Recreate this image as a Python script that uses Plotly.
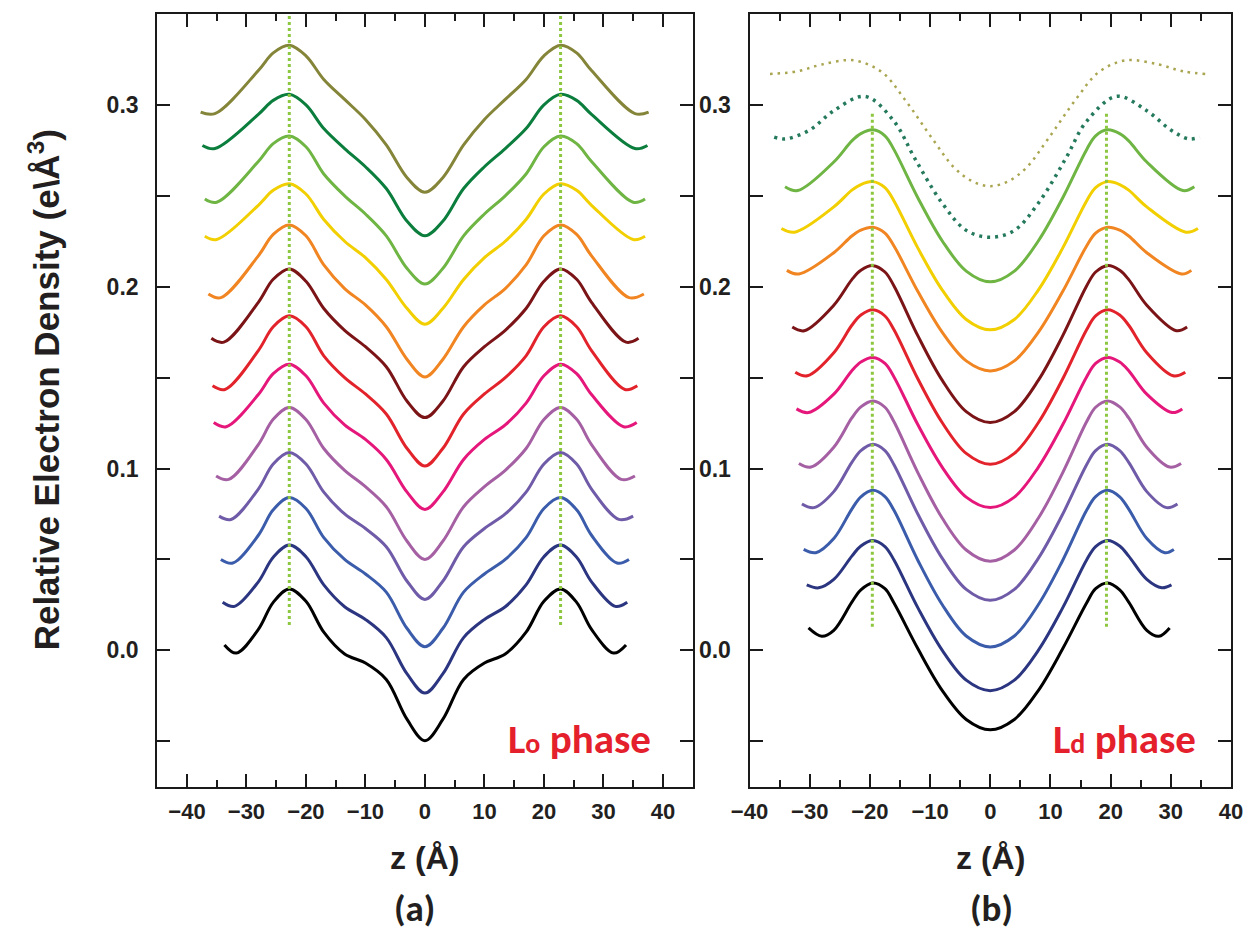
import plotly.graph_objects as go

# ---------------- DATA ----------------
# Panel (a) Lo phase: z (Å) and relative electron density, bottom curve to top curve
lo_black_z = [-33.7, -31.7, -28, -25.5, -22.8, -20, -17, -13.5, -10, -6.5, -3, 0, 3, 6.5, 10, 13.5, 17, 20, 22.8, 25.5, 28, 31.7, 33.8]
lo_black_rho = [0.003, -0.0015, 0.0115, 0.0264, 0.0338, 0.027, 0.010, -0.002, -0.007, -0.016, -0.038, -0.0497, -0.038, -0.016, -0.007, -0.002, 0.010, 0.027, 0.0338, 0.0264, 0.0115, -0.0015, 0.003]
lo_navy_z = [-34.0, -32.0, -28, -25.5, -22.8, -20, -17, -13.5, -10, -6.5, -3, 0, 3, 6.5, 10, 13.5, 17, 20, 22.8, 25.5, 28, 32.0, 34.0]
lo_navy_rho = [0.0265, 0.0242, 0.0377, 0.0512, 0.0579, 0.0515, 0.036, 0.024, 0.017, 0.007, -0.013, -0.0235, -0.013, 0.007, 0.017, 0.024, 0.036, 0.0515, 0.0579, 0.0512, 0.0377, 0.0242, 0.0265]
lo_blue_z = [-34.3, -32.3, -28, -25.5, -22.8, -20, -17, -13.5, -10, -6.5, -3, 0, 3, 6.5, 10, 13.5, 17, 20, 22.8, 25.5, 28, 32.3, 34.3]
lo_blue_rho = [0.050, 0.048, 0.0633, 0.0773, 0.084, 0.078, 0.062, 0.050, 0.042, 0.032, 0.012, 0.002, 0.012, 0.032, 0.042, 0.050, 0.062, 0.078, 0.084, 0.0773, 0.0633, 0.048, 0.050]
lo_purple_z = [-34.6, -32.6, -28, -25.5, -22.8, -20, -17, -13.5, -10, -6.5, -3, 0, 3, 6.5, 10, 13.5, 17, 20, 22.8, 25.5, 28, 32.6, 35.0]
lo_purple_rho = [0.0738, 0.072, 0.0887, 0.1025, 0.1088, 0.1025, 0.087, 0.075, 0.067, 0.057, 0.038, 0.028, 0.038, 0.057, 0.067, 0.075, 0.087, 0.1025, 0.1088, 0.1025, 0.0887, 0.072, 0.0738]
lo_mauve_z = [-35.1, -33.0, -28, -25.5, -22.8, -20, -17, -13.5, -10, -6.5, -3, 0, 3, 6.5, 10, 13.5, 17, 20, 22.8, 25.5, 28, 33.0, 35.3]
lo_mauve_rho = [0.0959, 0.094, 0.1132, 0.1271, 0.1336, 0.127, 0.111, 0.099, 0.090, 0.079, 0.060, 0.050, 0.060, 0.079, 0.090, 0.099, 0.111, 0.127, 0.1336, 0.1271, 0.1132, 0.094, 0.0959]
lo_pink_z = [-35.5, -33.4, -28, -25.5, -22.8, -20, -17, -13.5, -10, -6.5, -3, 0, 3, 6.5, 10, 13.5, 17, 20, 22.8, 25.5, 28, 33.4, 35.6]
lo_pink_rho = [0.1253, 0.123, 0.1407, 0.1522, 0.1574, 0.151, 0.136, 0.124, 0.116, 0.105, 0.087, 0.0775, 0.087, 0.105, 0.116, 0.124, 0.136, 0.151, 0.1574, 0.1522, 0.1407, 0.123, 0.1253]
lo_red_z = [-35.7, -33.6, -28, -25.5, -22.8, -20, -17, -13.5, -10, -6.5, -3, 0, 3, 6.5, 10, 13.5, 17, 20, 22.8, 25.5, 28, 33.6, 35.7]
lo_red_rho = [0.1455, 0.1435, 0.1649, 0.178, 0.184, 0.178, 0.162, 0.150, 0.141, 0.130, 0.111, 0.1014, 0.111, 0.130, 0.141, 0.150, 0.162, 0.178, 0.184, 0.178, 0.1649, 0.1435, 0.1455]
lo_darkred_z = [-35.9, -33.8, -28, -25.5, -22.8, -20, -17, -13.5, -10, -6.5, -3, 0, 3, 6.5, 10, 13.5, 17, 20, 22.8, 25.5, 28, 33.8, 35.9]
lo_darkred_rho = [0.1716, 0.1695, 0.1914, 0.2041, 0.2098, 0.203, 0.188, 0.176, 0.167, 0.156, 0.137, 0.128, 0.137, 0.156, 0.167, 0.176, 0.188, 0.203, 0.2098, 0.2041, 0.1914, 0.1695, 0.1716]
lo_orange_z = [-36.4, -34.3, -28, -25.5, -22.8, -20, -17, -13.5, -10, -6.5, -3, 0, 3, 6.5, 10, 13.5, 17, 20, 22.8, 25.5, 28, 34.3, 36.8]
lo_orange_rho = [0.196, 0.194, 0.217, 0.2288, 0.234, 0.228, 0.212, 0.199, 0.190, 0.178, 0.160, 0.1504, 0.160, 0.178, 0.190, 0.199, 0.212, 0.228, 0.234, 0.2288, 0.217, 0.194, 0.196]
lo_yellow_z = [-37.0, -35.0, -28, -25.5, -22.8, -20, -17, -13.5, -10, -6.5, -3, 0, 3, 6.5, 10, 13.5, 17, 20, 22.8, 25.5, 28, 35.0, 37.0]
lo_yellow_rho = [0.2278, 0.226, 0.2448, 0.253, 0.2566, 0.251, 0.237, 0.225, 0.216, 0.204, 0.188, 0.1794, 0.188, 0.204, 0.216, 0.225, 0.237, 0.251, 0.2566, 0.253, 0.2448, 0.226, 0.2278]
lo_lightgreen_z = [-37.0, -35.0, -28, -25.5, -22.8, -20, -17, -13.5, -10, -6.5, -3, 0, 3, 6.5, 10, 13.5, 17, 20, 22.8, 25.5, 28, 35.0, 37.0]
lo_lightgreen_rho = [0.2483, 0.2465, 0.2689, 0.2787, 0.2829, 0.277, 0.262, 0.250, 0.240, 0.228, 0.210, 0.2015, 0.210, 0.228, 0.240, 0.250, 0.262, 0.277, 0.2829, 0.2787, 0.2689, 0.2465, 0.2483]
lo_darkgreen_z = [-37.4, -35.3, -28, -25.5, -22.8, -20, -17, -13.5, -10, -6.5, -3, 0, 3, 6.5, 10, 13.5, 17, 20, 22.8, 25.5, 28, 35.3, 37.4]
lo_darkgreen_rho = [0.2777, 0.276, 0.2948, 0.3025, 0.3058, 0.300, 0.287, 0.276, 0.266, 0.254, 0.236, 0.228, 0.236, 0.254, 0.266, 0.276, 0.287, 0.300, 0.3058, 0.3025, 0.2948, 0.276, 0.2777]
lo_olive_z = [-37.7, -35.3, -28, -25.5, -22.8, -20, -17, -13.5, -10, -6.5, -3, 0, 3, 6.5, 10, 13.5, 17, 20, 22.8, 25.5, 28, 35.3, 37.6]
lo_olive_rho = [0.296, 0.2952, 0.3189, 0.3286, 0.3328, 0.327, 0.314, 0.303, 0.292, 0.278, 0.260, 0.252, 0.260, 0.278, 0.292, 0.303, 0.314, 0.327, 0.3328, 0.3286, 0.3189, 0.2952, 0.296]

# Panel (b) Ld phase
ld_black_z = [-30.2, -28.0, -26, -23, -21.5, -19.5, -17.5, -16, -12, -8, -4, 0, 4, 8, 12, 16, 17.5, 19.5, 21.5, 23, 26, 28.0, 29.8]
ld_black_rho = [0.0123, 0.0077, 0.011, 0.0265, 0.0333, 0.0371, 0.0339, 0.026, 0.0007, -0.022, -0.038, -0.0437, -0.038, -0.022, 0.0007, 0.026, 0.0339, 0.0371, 0.0333, 0.0265, 0.011, 0.0077, 0.0123]
ld_navy_z = [-30.5, -28.5, -26, -23, -21.5, -19.5, -17.5, -16, -12, -8, -4, 0, 4, 8, 12, 16, 17.5, 19.5, 21.5, 23, 26, 28.5, 30.1]
ld_navy_rho = [0.036, 0.0344, 0.039, 0.0518, 0.0574, 0.0604, 0.0571, 0.0497, 0.0232, 0.0001, -0.0164, -0.0222, -0.0164, 0.0001, 0.0232, 0.0497, 0.0571, 0.0604, 0.0574, 0.0518, 0.039, 0.0344, 0.036]
ld_blue_z = [-31.0, -29.0, -26, -23, -21.5, -19.5, -17.5, -16, -12, -8, -4, 0, 4, 8, 12, 16, 17.5, 19.5, 21.5, 23, 26, 29.0, 30.5]
ld_blue_rho = [0.0555, 0.0537, 0.0615, 0.0777, 0.0844, 0.088, 0.0846, 0.077, 0.0493, 0.0252, 0.0079, 0.0019, 0.0079, 0.0252, 0.0493, 0.077, 0.0846, 0.088, 0.0844, 0.0777, 0.0615, 0.0537, 0.0555]
ld_purple_z = [-31.3, -29.3, -26, -23, -21.5, -19.5, -17.5, -16, -12, -8, -4, 0, 4, 8, 12, 16, 17.5, 19.5, 21.5, 23, 26, 29.3, 31.1]
ld_purple_rho = [0.0805, 0.0785, 0.0873, 0.1034, 0.1098, 0.1133, 0.1099, 0.1021, 0.0747, 0.0507, 0.0335, 0.0275, 0.0335, 0.0507, 0.0747, 0.1021, 0.1099, 0.1133, 0.1098, 0.1034, 0.0873, 0.0785, 0.0805]
ld_mauve_z = [-31.8, -29.8, -26, -23, -21.5, -19.5, -17.5, -16, -12, -8, -4, 0, 4, 8, 12, 16, 17.5, 19.5, 21.5, 23, 26, 29.8, 31.7]
ld_mauve_rho = [0.1028, 0.1008, 0.1117, 0.1278, 0.1339, 0.1372, 0.1337, 0.1257, 0.0975, 0.0728, 0.0552, 0.049, 0.0552, 0.0728, 0.0975, 0.1257, 0.1337, 0.1372, 0.1339, 0.1278, 0.1117, 0.1008, 0.1028]
ld_pink_z = [-32.2, -30.2, -26, -23, -21.5, -19.5, -17.5, -16, -12, -8, -4, 0, 4, 8, 12, 16, 17.5, 19.5, 21.5, 23, 26, 30.2, 31.9]
ld_pink_rho = [0.1328, 0.1308, 0.1409, 0.1538, 0.1586, 0.1611, 0.1578, 0.1504, 0.1239, 0.1008, 0.0843, 0.0785, 0.0843, 0.1008, 0.1239, 0.1504, 0.1578, 0.1611, 0.1586, 0.1538, 0.1409, 0.1308, 0.1328]
ld_red_z = [-32.4, -30.4, -26, -23, -21.5, -19.5, -17.5, -16, -12, -8, -4, 0, 4, 8, 12, 16, 17.5, 19.5, 21.5, 23, 26, 30.4, 32.4]
ld_red_rho = [0.153, 0.151, 0.1637, 0.1788, 0.1844, 0.1873, 0.1839, 0.1763, 0.1491, 0.1253, 0.1083, 0.1023, 0.1083, 0.1253, 0.1491, 0.1763, 0.1839, 0.1873, 0.1844, 0.1788, 0.1637, 0.151, 0.153]
ld_darkred_z = [-32.9, -30.9, -26, -23, -21.5, -19.5, -17.5, -16, -12, -8, -4, 0, 4, 8, 12, 16, 17.5, 19.5, 21.5, 23, 26, 30.9, 32.7]
ld_darkred_rho = [0.1778, 0.1758, 0.1898, 0.2039, 0.209, 0.2116, 0.2081, 0.2004, 0.1728, 0.1486, 0.1313, 0.1253, 0.1313, 0.1486, 0.1728, 0.2004, 0.2081, 0.2116, 0.209, 0.2039, 0.1898, 0.1758, 0.1778]
ld_orange_z = [-33.8, -31.8, -26, -23, -21.5, -19.5, -17.5, -16, -12, -8, -4, 0, 4, 8, 12, 16, 17.5, 19.5, 21.5, 23, 26, 31.8, 33.4]
ld_orange_rho = [0.209, 0.207, 0.2187, 0.2279, 0.2311, 0.2327, 0.2295, 0.2224, 0.1972, 0.175, 0.1592, 0.1537, 0.1592, 0.175, 0.1972, 0.2224, 0.2295, 0.2327, 0.2311, 0.2279, 0.2187, 0.207, 0.209]
ld_yellow_z = [-34.7, -32.5, -26, -23, -21.5, -19.5, -17.5, -16, -12, -8, -4, 0, 4, 8, 12, 16, 17.5, 19.5, 21.5, 23, 26, 32.5, 34.5]
ld_yellow_rho = [0.232, 0.230, 0.2439, 0.2531, 0.2562, 0.2578, 0.2545, 0.2472, 0.2211, 0.1983, 0.182, 0.1763, 0.182, 0.1983, 0.2211, 0.2472, 0.2545, 0.2578, 0.2562, 0.2531, 0.2439, 0.230, 0.232]
ld_lightgreen_z = [-34.1, -32.0, -26, -23, -21.5, -19.5, -17.5, -16, -12, -8, -4, 0, 4, 8, 12, 16, 17.5, 19.5, 21.5, 23, 26, 32.0, 33.9]
ld_lightgreen_rho = [0.255, 0.2529, 0.2686, 0.2802, 0.2842, 0.2863, 0.283, 0.2754, 0.2487, 0.2253, 0.2086, 0.2027, 0.2086, 0.2253, 0.2487, 0.2754, 0.283, 0.2863, 0.2842, 0.2802, 0.2686, 0.2529, 0.255]
ld_teal_z = [-35.9, -34.0, -30, -26, -20.8, -16, -12.5, -8, -4, 0, 4, 8, 12.5, 16, 21, 26, 30, 33.0, 34.8]
ld_teal_rho = [0.2823, 0.2813, 0.2862, 0.2968, 0.3047, 0.291, 0.2703, 0.246, 0.231, 0.2272, 0.231, 0.246, 0.2703, 0.291, 0.3047, 0.2968, 0.2862, 0.2813, 0.2823]
ld_khaki_z = [-36.6, -32, -28, -22.7, -18, -14.3, -9.6, -6, -3, 0, 3, 6, 9.6, 14.3, 18, 22.5, 28, 32, 35.9]
ld_khaki_rho = [0.317, 0.3185, 0.3222, 0.3245, 0.318, 0.3034, 0.2813, 0.2655, 0.258, 0.2553, 0.258, 0.2655, 0.2813, 0.3034, 0.318, 0.3245, 0.3222, 0.3185, 0.317]

# head-group peak guide lines (z position, rho start, rho end)
lo_guide_z = [-22.8, 22.8]
lo_guide_rho = [0.014, 0.35]
ld_guide_z = [-19.6, 19.3]
ld_guide_rho = [0.013, 0.296]

# colours, bottom to top
curve_colors = ['#000000', '#2b3580', '#3b5caa', '#6f5ba7', '#a55fa3', '#e5177b',
                '#e3232b', '#7b1417', '#f08521', '#f2cf00', '#6fb544', '#0b7d3c', '#85853a']
ld_dotted_colors = ['#257a5c', '#aaa550']
guide_color = '#8dc63f'

# axis ticks
lo_x_ticks = [-40, -30, -20, -10, 0, 10, 20, 30, 40]
ld_x_ticks = [-40, -30, -20, -10, 0, 10, 20, 30, 40]
y_tick_vals = [-0.05, 0.0, 0.05, 0.1, 0.15, 0.2, 0.25, 0.3]
y_tick_text = [' ', '0.0', ' ', '0.1', ' ', '0.2', ' ', '0.3']

# ---------------- FIGURE ----------------
W, H = 1257, 938
fig = go.Figure()

lo_series = [(lo_black_z, lo_black_rho), (lo_navy_z, lo_navy_rho), (lo_blue_z, lo_blue_rho),
             (lo_purple_z, lo_purple_rho), (lo_mauve_z, lo_mauve_rho), (lo_pink_z, lo_pink_rho),
             (lo_red_z, lo_red_rho), (lo_darkred_z, lo_darkred_rho), (lo_orange_z, lo_orange_rho),
             (lo_yellow_z, lo_yellow_rho), (lo_lightgreen_z, lo_lightgreen_rho),
             (lo_darkgreen_z, lo_darkgreen_rho), (lo_olive_z, lo_olive_rho)]
ld_series = [(ld_black_z, ld_black_rho), (ld_navy_z, ld_navy_rho), (ld_blue_z, ld_blue_rho),
             (ld_purple_z, ld_purple_rho), (ld_mauve_z, ld_mauve_rho), (ld_pink_z, ld_pink_rho),
             (ld_red_z, ld_red_rho), (ld_darkred_z, ld_darkred_rho), (ld_orange_z, ld_orange_rho),
             (ld_yellow_z, ld_yellow_rho), (ld_lightgreen_z, ld_lightgreen_rho)]

for (z, r), c in zip(lo_series, curve_colors):
    fig.add_trace(go.Scatter(x=z, y=r, mode='lines', line=dict(color=c, width=3, shape='spline', smoothing=1.0),
                             xaxis='x', yaxis='y', hoverinfo='skip'))
for (z, r), c in zip(ld_series, curve_colors):
    fig.add_trace(go.Scatter(x=z, y=r, mode='lines', line=dict(color=c, width=3, shape='spline', smoothing=1.0),
                             xaxis='x2', yaxis='y2', hoverinfo='skip'))
fig.add_trace(go.Scatter(x=ld_teal_z, y=ld_teal_rho, mode='lines',
                         line=dict(color=ld_dotted_colors[0], width=3.5, dash='3px,5px', shape='spline'),
                         xaxis='x2', yaxis='y2', hoverinfo='skip'))
fig.add_trace(go.Scatter(x=ld_khaki_z, y=ld_khaki_rho, mode='lines',
                         line=dict(color=ld_dotted_colors[1], width=2.5, dash='2.5px,5px', shape='spline'),
                         xaxis='x2', yaxis='y2', hoverinfo='skip'))

for gz in lo_guide_z:
    fig.add_trace(go.Scatter(x=[gz, gz], y=lo_guide_rho, mode='lines',
                             line=dict(color=guide_color, width=3, dash='3px,3px'),
                             xaxis='x', yaxis='y', hoverinfo='skip'))
for gz in ld_guide_z:
    fig.add_trace(go.Scatter(x=[gz, gz], y=ld_guide_rho, mode='lines',
                             line=dict(color=guide_color, width=3, dash='3px,3px'),
                             xaxis='x2', yaxis='y2', hoverinfo='skip'))

axis_col = '#1a1a1a'
tick_font_x = dict(family='Liberation Sans, Arial, sans-serif', size=22, color='#231f20', weight='bold')
tick_font_y = dict(family='Liberation Sans, Arial, sans-serif', size=23, color='#231f20', weight='bold')

def xaxis_cfg(rng, dom, ticks):
    return dict(domain=dom, range=rng, tickmode='array', tickvals=ticks,
                ticks='inside', ticklen=13, tickwidth=2, tickcolor=axis_col,
                minor=dict(dtick=5, tick0=0, ticks='inside', ticklen=7, tickwidth=2, tickcolor=axis_col),
                showline=True, linewidth=2, linecolor=axis_col, mirror='allticks',
                showgrid=False, zeroline=False, tickfont=tick_font_x, ticklabelstandoff=4)

def yaxis_cfg(anchor):
    return dict(domain=[1 - 786.7 / H, 1 - 14 / H], range=[-0.075, 0.35], anchor=anchor,
                tickmode='array', tickvals=y_tick_vals, ticktext=y_tick_text,
                ticks='inside', ticklen=13, tickwidth=2, tickcolor=axis_col,
                showline=True, linewidth=2, linecolor=axis_col, mirror='allticks',
                showgrid=False, zeroline=False, tickfont=tick_font_y, ticklabelstandoff=12)

fig.update_layout(
    width=W, height=H, margin=dict(l=0, r=0, t=0, b=0),
    paper_bgcolor='white', plot_bgcolor='white', showlegend=False,
    xaxis=dict(anchor='y', **xaxis_cfg([-45, 45], [141.7 / W, 690.7 / W], lo_x_ticks)),
    yaxis=yaxis_cfg('x'),
    xaxis2=dict(anchor='y2', **xaxis_cfg([-40, 40], [749.0 / W, 1242.7 / W], ld_x_ticks)),
    yaxis2=yaxis_cfg('x2'),
)

label_font = dict(family='Liberation Sans Narrow, Liberation Sans, Arial, sans-serif', size=32, color='#231f20', weight='bold')
panel_font = dict(family='Carlito, Lato, sans-serif', size=37, color='#231f20', weight='bold')
phase_font = dict(family='Carlito, Lato, sans-serif', size=41, color='#e4202c', weight='bold')

anns = [
    dict(text='z (Å)', x=416 / W, y=1 - 858 / H, font=label_font),
    dict(text='z (Å)', x=996 / W, y=1 - 858 / H, font=label_font),
    dict(text='(a)', x=406 / W, y=1 - 908 / H, font=panel_font),
    dict(text='(b)', x=997 / W, y=1 - 908 / H, font=panel_font),
    dict(text='Relative Electron Density (e\\Å<sup>3</sup>)', x=26 / W, y=1 - 390 / H, textangle=-90,
         font=dict(family='Liberation Sans, Arial, sans-serif', size=35, color='#231f20', weight='bold')),
]
for a in anns:
    a.update(xref='paper', yref='paper', showarrow=False, xanchor='center', yanchor='middle')
fig.update_layout(annotations=anns)
fig.add_annotation(text='L<span style="font-size:28px">o</span> phase', xref='paper', yref='paper',
                   x=650 / W, y=1 - 739 / H, xanchor='right', yanchor='middle', showarrow=False, font=phase_font)
fig.add_annotation(text='L<span style="font-size:28px">d</span> phase', xref='paper', yref='paper',
                   x=1209 / W, y=1 - 739 / H, xanchor='right', yanchor='middle', showarrow=False, font=phase_font)

fig.write_html('out.html')
